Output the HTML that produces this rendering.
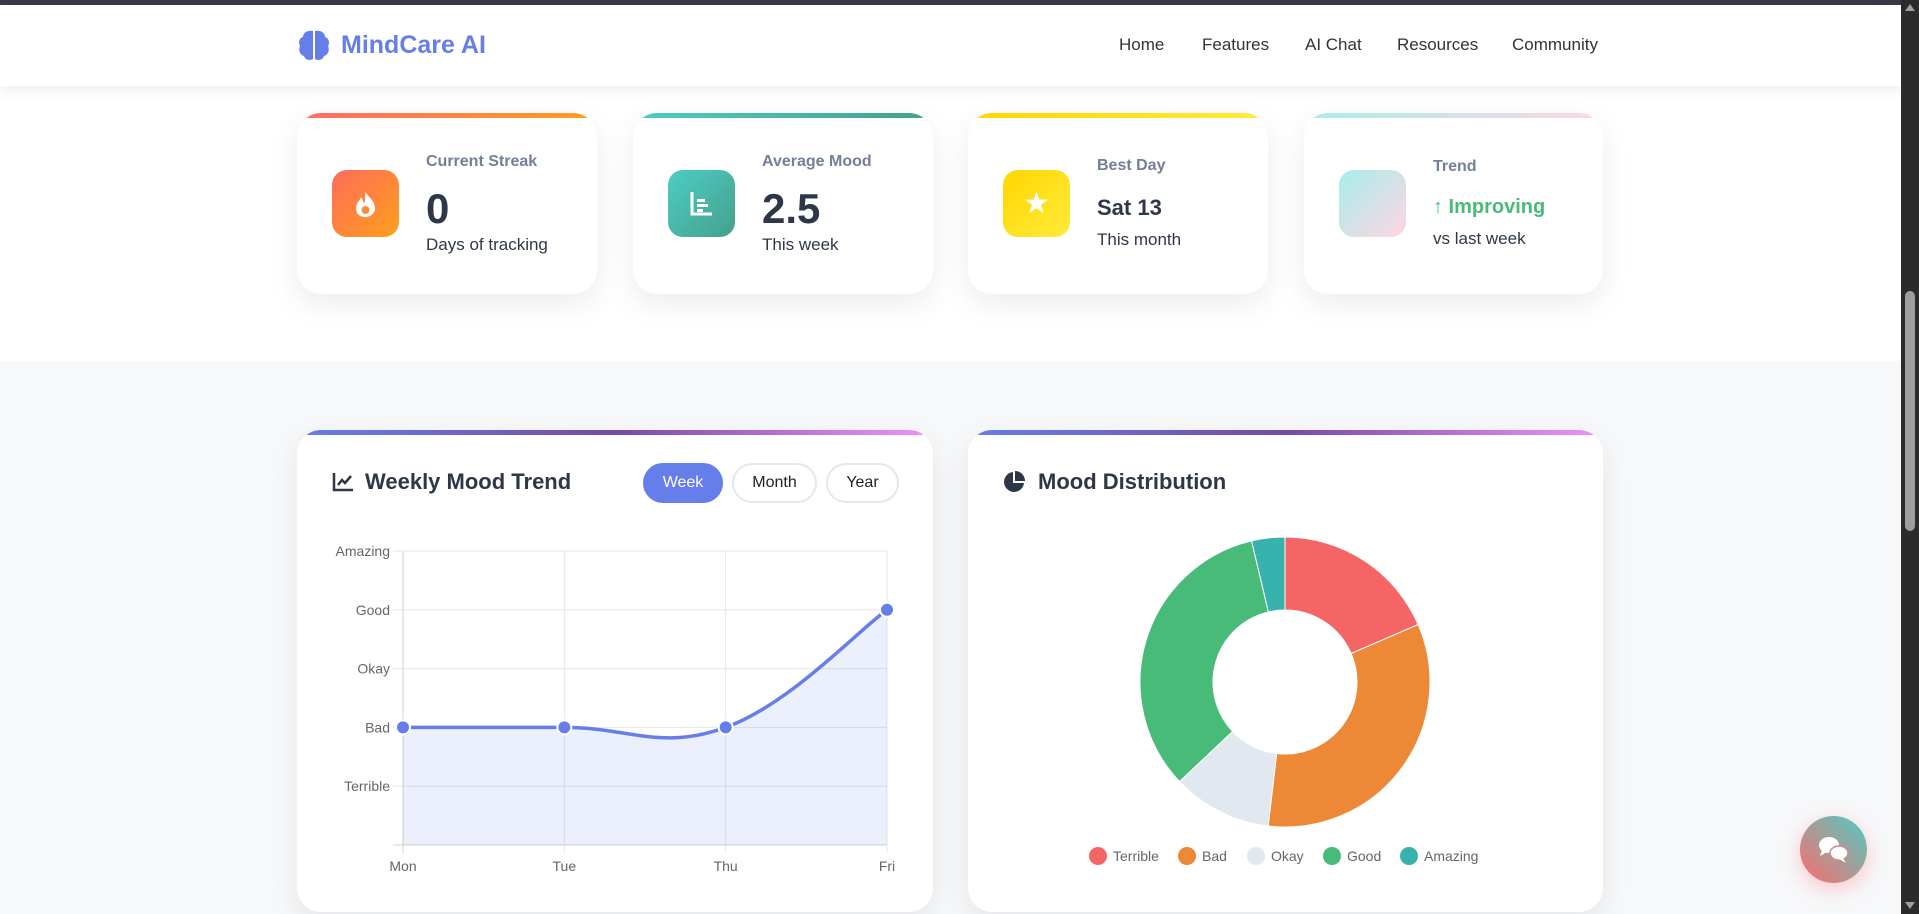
<!DOCTYPE html>
<html><head><meta charset="utf-8"><style>
*{box-sizing:border-box;margin:0;padding:0}
body{width:1919px;height:914px;overflow:hidden;background:#f7f8fa;font-family:"Liberation Sans",sans-serif;position:relative}
.abs{position:absolute}
.card{position:absolute;background:#fff;border-radius:24px;box-shadow:0 10px 30px rgba(0,0,0,0.08);overflow:hidden}
.bar{position:absolute;left:0;right:0;top:0;height:5px}
.icon{position:absolute;left:35px;top:57px;width:67px;height:67px;border-radius:15px}
.lbl{position:absolute;left:129px;color:#718096;font-size:16px;font-weight:bold}
.val{position:absolute;left:129px;color:#2d3748;font-weight:bold}
.sub{position:absolute;left:129px;color:#2d3748;font-size:17px}
.nav{position:absolute;top:35px;font-size:17px;color:#333}
.btn{position:absolute;top:463px;height:40px;border-radius:20px;border:2px solid #e2e8f0;background:#fff;font-size:16px;color:#222;display:flex;align-items:center;justify-content:center}
</style></head><body>
<div class="abs" style="left:0;top:0;width:1919px;height:5px;background:#3a3a48"></div>
<div class="abs" style="left:0;top:86px;width:1901px;height:275px;background:#fff"></div>
<div class="abs" style="left:0;top:5px;width:1901px;height:81px;background:#fff;box-shadow:0 4px 14px rgba(0,0,0,0.07)"></div>
<svg class="abs" style="left:297px;top:28px" width="34" height="34" viewBox="0 0 34 34"><path d="M16 3 C10 2 6 5 6 9 C2 10 1 15 3 18 C1 22 3 27 7 28 C8 32 13 33 16 31 Z M18 3 C24 2 28 5 28 9 C32 10 33 15 31 18 C33 22 31 27 27 28 C26 32 21 33 18 31 Z" fill="#667eea"/></svg>
<div class="abs" style="left:341px;top:31px;font-size:25px;font-weight:bold;color:#667eea">MindCare AI</div>
<div class="nav" style="left:1119px">Home</div>
<div class="nav" style="left:1202px">Features</div>
<div class="nav" style="left:1305px">AI Chat</div>
<div class="nav" style="left:1397px">Resources</div>
<div class="nav" style="left:1512px">Community</div>

<div class="card" style="left:297px;top:113px;width:300px;height:181px">
<div class="bar" style="background:linear-gradient(90deg,#ff6b6b,#ff9f1c)"></div>
<div class="icon" style="background:linear-gradient(135deg,#ff6b5b,#ff9f1c)">
<svg width="67" height="67"><path d="M33 22 C38 28 43 32 43 38 C43 44 38 47 33 47 C28 47 24 44 24 38 C24 33 28 31 29 27 C31 30 31 32 33 33 Z" fill="#fff"/><circle cx="33.5" cy="40" r="4" fill="#ff8c3a"/></svg></div>
<div class="lbl" style="top:40px">Current Streak</div>
<div class="val" style="top:72px;font-size:42px">0</div>
<div class="sub" style="top:122px">Days of tracking</div>
</div>
<div class="card" style="left:633px;top:113px;width:300px;height:181px">
<div class="bar" style="background:linear-gradient(90deg,#4ecdc4,#44a08d)"></div>
<div class="icon" style="background:linear-gradient(135deg,#4ecdc4,#44a08d)">
<svg width="67" height="67"><path d="M24 22 V44 H44" stroke="#fff" stroke-width="3" fill="none"/><rect x="29" y="29" width="8" height="3" fill="#fff"/><rect x="29" y="34" width="11" height="3" fill="#fff"/><rect x="29" y="39" width="6" height="3" fill="#fff"/></svg></div>
<div class="lbl" style="top:40px">Average Mood</div>
<div class="val" style="top:72px;font-size:42px">2.5</div>
<div class="sub" style="top:122px">This week</div>
</div>
<div class="card" style="left:968px;top:113px;width:300px;height:181px">
<div class="bar" style="background:linear-gradient(90deg,#ffd700,#ffeb3b)"></div>
<div class="icon" style="background:linear-gradient(135deg,#ffd600,#ffeb3b);color:#fff;font-size:30px;text-align:center;line-height:67px">&#9733;</div>
<div class="lbl" style="top:44px">Best Day</div>
<div class="val" style="top:82px;font-size:22px">Sat 13</div>
<div class="sub" style="top:117px">This month</div>
</div>
<div class="card" style="left:1304px;top:113px;width:299px;height:181px">
<div class="bar" style="background:linear-gradient(90deg,#a8edea,#fed6e3)"></div>
<div class="icon" style="background:linear-gradient(135deg,#a8edea,#fed6e3)"></div>
<div class="lbl" style="top:45px">Trend</div>
<div class="val" style="top:83px;font-size:20px;color:#48bb78">&#8593; Improving</div>
<div class="sub" style="top:116px">vs last week</div>
</div>

<div class="card" style="left:297px;top:430px;width:636px;height:482px">
<div class="bar" style="background:linear-gradient(90deg,#667eea,#764ba2,#f093fb)"></div></div>
<div class="card" style="left:968px;top:430px;width:635px;height:482px">
<div class="bar" style="background:linear-gradient(90deg,#667eea,#764ba2,#f093fb)"></div></div>

<svg class="abs" style="left:332px;top:472px" width="22" height="20"><path d="M2 1 V18 H21" stroke="#2d3748" stroke-width="2.5" fill="none"/><path d="M6 13 L10 8 L13 11 L19 4" stroke="#2d3748" stroke-width="2.5" fill="none"/></svg>
<div class="abs" style="left:365px;top:469px;font-size:22px;font-weight:bold;color:#2d3748">Weekly Mood Trend</div>
<div class="btn" style="left:643px;width:80px;background:#667eea;border-color:#667eea;color:#fff">Week</div>
<div class="btn" style="left:732px;width:85px">Month</div>
<div class="btn" style="left:826px;width:73px">Year</div>

<svg class="abs" style="left:1003px;top:471px" width="22" height="22"><path d="M10 1 A10 10 0 1 0 21 12 H10 Z" fill="#2d3748"/><path d="M12 0 A10 10 0 0 1 22 10 H12 Z" fill="#2d3748"/></svg>
<div class="abs" style="left:1038px;top:469px;font-size:22px;font-weight:bold;color:#2d3748">Mood Distribution</div>

<svg id="charts" class="abs" style="left:0;top:0" width="1919" height="914"></svg>

<div class="abs" style="left:1800px;top:816px;width:67px;height:67px;border-radius:50%;background:linear-gradient(225deg,#4ecdc4,#ff6b6b);box-shadow:0 6px 20px rgba(255,107,107,0.35)">
<svg width="67" height="67"><ellipse cx="29" cy="29" rx="10" ry="8" fill="#fff"/><path d="M22 34 L20 40 L27 36 Z" fill="#fff"/><ellipse cx="39" cy="37" rx="9" ry="7" fill="#fff" stroke="#c8908c" stroke-width="1.5"/><path d="M43 42 L46 47 L39 43 Z" fill="#fff"/></svg></div>
<div class="abs" style="left:1901px;top:0;width:18px;height:914px;background:#2b2b2b"></div>
<div class="abs" style="left:1905px;top:291px;width:10px;height:240px;border-radius:5px;background:#9e9e9e"></div>
<div class="abs" style="left:1905px;top:4px;width:0;height:0;border-left:5px solid transparent;border-right:5px solid transparent;border-bottom:7px solid #9e9e9e"></div>
<div class="abs" style="left:1905px;top:902px;width:0;height:0;border-left:5px solid transparent;border-right:5px solid transparent;border-top:7px solid #9e9e9e"></div>

<script>
const days = ["Mon","Tue","Thu","Fri"];
const moodValues = [2,2,2,4];
const yTickLabels = ["Terrible","Bad","Okay","Good","Amazing"];
const yTickValues = [1,2,3,4,5];
const moodCategories = ["Terrible","Bad","Okay","Good","Amazing"];
const moodCounts = [5,9,3,9,1];
const moodColors = ["#f56565","#ed8936","#e2e8f0","#48bb78","#38b2ac"];

const NS="http://www.w3.org/2000/svg";
const svg=document.getElementById('charts');
function mk(t,a,txt){const e=document.createElementNS(NS,t);for(const k in a)e.setAttribute(k,a[k]);if(txt!==undefined)e.textContent=txt;svg.appendChild(e);return e;}
const X0=403,X1=887,YB=845,YT=551,VMAX=5;
const xs=i=>X0+(X1-X0)*i/(days.length-1);
const ys=v=>YB-(YB-YT)*v/VMAX;

for(let v=0;v<=VMAX;v++){
  const g=mk('line',{x1:393,x2:X1,y1:ys(v),y2:ys(v),stroke:v===0?'#d0d0d0':'#e6e6e6','stroke-width':1});
  
  
}
days.forEach((d,i)=>{
  const g=mk('line',{x1:xs(i),x2:xs(i),y1:YT,y2:YB+8,stroke:i===0?'#d0d0d0':'#e6e6e6','stroke-width':1});
  
  
  const t=mk('text',{x:xs(i),y:871,'text-anchor':'middle','font-size':14,fill:'#666','font-family':'Liberation Sans, sans-serif'},d);
  
  
});
yTickValues.forEach((v,i)=>{
  const t=mk('text',{x:390,y:ys(v)+5,'text-anchor':'end','font-size':14,fill:'#666','font-family':'Liberation Sans, sans-serif'},yTickLabels[i]);
  
  
});
const pts=moodValues.map((v,i)=>[xs(i),ys(v)]);
let d=`M${pts[0][0]},${pts[0][1]}`;
const T=0.4;
for(let i=0;i<pts.length-1;i++){
  const p0=pts[Math.max(0,i-1)],p1=pts[i],p2=pts[i+1],p3=pts[Math.min(pts.length-1,i+2)];
  const c1=[p1[0]+(p2[0]-p0[0])*T/2,p1[1]+(p2[1]-p0[1])*T/2];
  const c2=[p2[0]-(p3[0]-p1[0])*T/2,p2[1]-(p3[1]-p1[1])*T/2];
  d+=` C${c1[0]},${c1[1]} ${c2[0]},${c2[1]} ${p2[0]},${p2[1]}`;
}
const area=mk('path',{d:d+` L${pts[pts.length-1][0]},${YB} L${pts[0][0]},${YB} Z`,fill:'rgba(102,126,234,0.12)'});


const line=mk('path',{d:d,fill:'none',stroke:'#667eea','stroke-width':3.5});


pts.forEach(p=>{
  const c=mk('circle',{cx:p[0],cy:p[1],r:7,fill:'#667eea',stroke:'#fff','stroke-width':2});
  
  
});

const CX=1285,CY=682,RO=145,RI=72;
const total=moodCounts.reduce((a,b)=>a+b,0);
let ang=-Math.PI/2;
moodCounts.forEach((c,i)=>{
  const a2=ang+2*Math.PI*c/total;
  const large=(a2-ang)>Math.PI?1:0;
  const P=(r,a)=>[CX+r*Math.cos(a),CY+r*Math.sin(a)];
  const [ax,ay]=P(RO,ang),[bx,by]=P(RO,a2),[cx2,cy2]=P(RI,a2),[dx,dy]=P(RI,ang);
  const s=mk('path',{d:`M${ax},${ay} A${RO},${RO} 0 ${large} 1 ${bx},${by} L${cx2},${cy2} A${RI},${RI} 0 ${large} 0 ${dx},${dy} Z`,fill:moodColors[i],stroke:'#fff','stroke-width':1});
  
  
  ang=a2;
});
const legX=[1098,1187,1256,1332,1409];
moodCategories.forEach((m,i)=>{
  const c=mk('circle',{cx:legX[i],cy:856,r:9,fill:moodColors[i]});
  
  
  const t=mk('text',{x:legX[i]+15,y:861,'font-size':14,fill:'#666','font-family':'Liberation Sans, sans-serif'},m);
  
  
});
</script>
</body></html>
